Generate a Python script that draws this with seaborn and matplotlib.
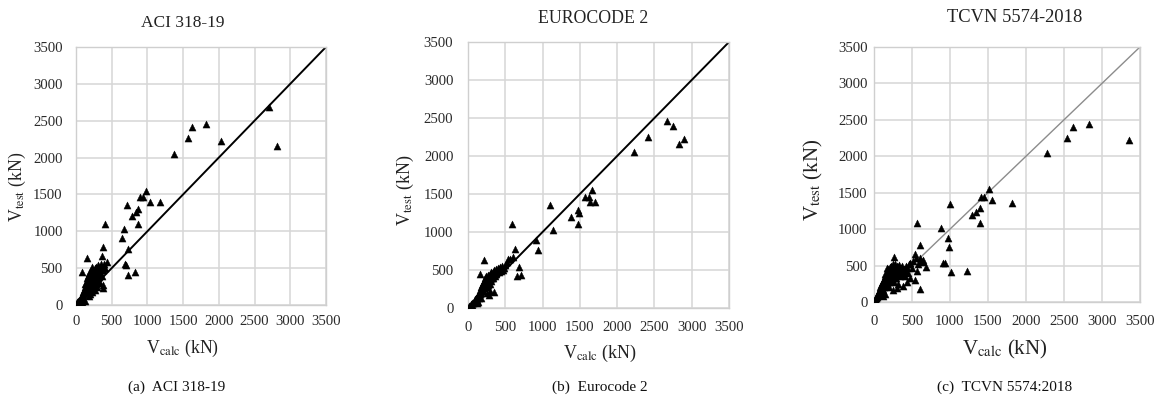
import matplotlib
matplotlib.use("Agg")
import matplotlib.pyplot as plt
import seaborn as sns
import pandas as pd

# ---------------- data (kN) ----------------
# ACI 318-19: calculated vs. test shear strength
aci_calc = [15, 20, 25, 30, 35, 40, 45, 50, 55, 60, 65, 70, 75, 80, 85, 90, 95, 100, 100, 105,
            110, 115, 120, 125, 130, 135, 140, 145, 150, 150, 155, 160, 160, 165, 170, 175, 180, 180,
            185, 190, 190, 195, 200, 200, 205, 210, 210, 215, 220, 220, 225, 230, 230, 235, 240, 240,
            245, 250, 250, 255, 260, 260, 265, 270, 270, 275, 280, 280, 285, 290, 295, 300, 300, 305,
            310, 315, 320, 325, 330, 340, 345, 350, 360, 370, 380, 390, 400, 180, 230, 270, 120, 90,
            330, 300,
            2700, 2820, 2030, 1825, 1630, 1570, 1370, 980, 890, 940, 1030, 1180, 715, 865, 840, 785,
            875, 405, 670, 650, 380, 725, 680, 700, 725, 820, 160, 80, 370, 380, 380, 430]
aci_test = [20, 35, 30, 50, 45, 60, 40, 70, 80, 55, 90, 75, 110, 95, 130, 120, 150, 100, 180, 140,
            200, 160, 240, 190, 280, 220, 300, 170, 330, 250, 360, 210, 290, 400, 320, 250, 350, 430,
            280, 380, 150, 310, 420, 240, 360, 470, 290, 330, 390, 200, 520, 350, 260, 440, 300, 380,
            480, 330, 420, 250, 360, 500, 300, 400, 460, 340, 520, 280, 380, 440, 320, 480, 400, 360,
            540, 420, 460, 380, 500, 440, 560, 480, 400, 520, 470, 560, 500, 120, 170, 200, 60, 45,
            300, 250,
            2690, 2160, 2230, 2460, 2410, 2260, 2050, 1550, 1460, 1460, 1400, 1400, 1360, 1300, 1260, 1210,
            1100, 1100, 1025, 910, 790, 755, 550, 540, 410, 445, 640, 450, 660, 225, 270, 580]

# Eurocode 2
ec2_calc = [15, 20, 30, 35, 45, 50, 60, 65, 75, 80, 90, 95, 100, 110, 115, 120, 125, 130, 140, 145,
            150, 155, 160, 165, 170, 175, 180, 185, 190, 195, 200, 205, 210, 215, 220, 225, 230, 235,
            240, 245, 250, 255, 260, 265, 270, 275, 280, 285, 290, 295, 300, 305, 310, 315, 320, 325,
            330, 335, 340, 345, 350, 360, 365, 370, 380, 390, 400, 410, 420, 430, 440, 450, 460, 470,
            480, 500, 520, 540, 560, 250, 280, 300, 180, 130, 120,
            2665, 2745, 2900, 2825, 2415, 2230, 1665, 1565, 1620, 1640, 1705, 1105, 1475, 1495, 1380,
            1480, 595, 1140, 910, 940, 625, 690, 710, 655, 210, 165, 610, 345]
ec2_test = [15, 30, 25, 40, 50, 45, 70, 60, 85, 75, 100, 120, 90, 130, 110, 150, 140, 170, 160, 190,
            130, 210, 180, 240, 200, 270, 230, 300, 250, 330, 280, 220, 310, 360, 260, 330, 390, 300,
            350, 420, 280, 380, 330, 440, 360, 300, 400, 350, 450, 380, 320, 420, 470, 360, 400, 440,
            480, 390, 430, 500, 460, 420, 480, 510, 450, 490, 530, 470, 510, 540, 490, 520, 550, 500,
            530, 560, 600, 640, 650, 200, 170, 230, 130, 80, 60,
            2455, 2400, 2225, 2155, 2245, 2055, 1550, 1455, 1455, 1400, 1390, 1350, 1295, 1245, 1200,
            1100, 1100, 1020, 900, 760, 780, 540, 430, 415, 630, 450, 670, 210]

# TCVN 5574:2018
tcvn_calc = [10, 15, 20, 25, 30, 35, 40, 45, 50, 55, 60, 65, 70, 75, 80, 85, 90, 95, 100, 105,
             110, 115, 120, 125, 130, 135, 140, 145, 150, 155, 160, 165, 170, 175, 180, 185, 190, 195,
             200, 205, 210, 215, 220, 225, 230, 235, 240, 245, 250, 255, 260, 265, 270, 275, 280, 285,
             290, 300, 305, 310, 315, 320, 325, 330, 340, 345, 350, 360, 370, 380, 390, 400, 410, 420,
             430, 440, 450, 460, 470, 480, 500, 520, 540, 550, 560, 580, 600, 620, 640, 200, 250, 300,
             380, 150, 120,
             3355, 2830, 2615, 2545, 2280, 1810, 1555, 1510, 1410, 1445, 1390, 1340, 1285, 1400, 1000,
             885, 970, 985, 915, 935, 1010, 1225, 565, 600, 540, 600, 175, 270, 690, 645]
tcvn_test = [20, 40, 30, 60, 50, 80, 70, 100, 120, 90, 150, 130, 110, 180, 160, 200, 140, 230, 190, 260,
             220, 170, 290, 250, 320, 200, 350, 280, 380, 240, 310, 410, 340, 260, 370, 450, 300, 400,
             330, 480, 360, 270, 420, 500, 380, 320, 450, 520, 400, 350, 480, 280, 430, 520, 380, 460,
             330, 500, 420, 370, 480, 250, 440, 510, 400, 350, 470, 430, 500, 380, 450, 420, 360, 500,
             280, 460, 400, 520, 330, 540, 470, 560, 300, 610, 420, 520, 600, 560, 550, 200, 170, 190,
             220, 110, 80,
             2220, 2450, 2405, 2255, 2040, 1365, 1395, 1545, 1445, 1445, 1290, 1235, 1190, 1090, 1340,
             1010, 885, 755, 530, 540, 405, 425, 1090, 780, 665, 180, 460, 620, 480, 575]

titles = ["ACI 318-19", "EUROCODE 2", "TCVN 5574-2018"]
captions = ["(a)  ACI 318-19", "(b)  Eurocode 2", "(c)  TCVN 5574:2018"]
ticks = [0, 500, 1000, 1500, 2000, 2500, 3000, 3500]
line_ends = [0, 3500]

# ---------------- style ----------------
sns.set_theme(style="whitegrid")
plt.rcParams["font.family"] = ["Liberation Serif", "DejaVu Serif"]
plt.rcParams["mathtext.fontset"] = "stix"
plt.rcParams["axes.unicode_minus"] = False

fig = plt.figure(figsize=(11.67, 4.07), dpi=100)
fig.patch.set_facecolor("white")

# axes boxes in figure fractions: left, bottom, width, height
boxes = [
    [0.0651, 0.2506, 0.2142, 0.6339],
    [0.4010, 0.2432, 0.2237, 0.6536],
    [0.7489, 0.2580, 0.2279, 0.6265],
]
title_pos = [(0.428, 1.093), (0.479, 1.090), (0.530, 1.114)]
title_size = [12.5, 12.8, 13.3]
label_size = [12.8, 13.0, 15.0]
ylabel_pos = [(-0.236, 0.457), (-0.241, 0.444), (-0.229, 0.478)]
xlabel_pos = [(0.428, -0.167), (0.506, -0.169), (0.492, -0.185)]
ytick_pad = [9.5, 10.5, 4.5]
xtick_pad = [7.5, 9.0, 9.5]
line_style = [("black", 1.4), ("black", 1.4), ("#8c8c8c", 1.0)]
caption_x = [177, 600, 1005]

datasets = [(aci_calc, aci_test), (ec2_calc, ec2_test), (tcvn_calc, tcvn_test)]

for i, (calc, test) in enumerate(datasets):
    ax = fig.add_axes(boxes[i])
    ax.set_facecolor("white")
    df = pd.DataFrame({"calc": calc, "test": test})
    ref = pd.DataFrame({"x": line_ends, "y": line_ends})

    sns.lineplot(data=ref, x="x", y="y", ax=ax, color=line_style[i][0],
                 linewidth=line_style[i][1], zorder=2)
    sns.scatterplot(data=df, x="calc", y="test", ax=ax, marker="^", s=26,
                    color="black", edgecolor="black", linewidth=0.3, zorder=3)

    ax.set_xlim(0, 3500)
    ax.set_ylim(0, 3500)
    ax.set_xticks(ticks)
    ax.set_yticks(ticks)
    ax.grid(True, color="#d6d6d6", linewidth=1.1)
    for sp in ax.spines.values():
        sp.set_color("#cfcfcf")
        sp.set_linewidth(1.0)
    ax.tick_params(axis="x", length=0, pad=xtick_pad[i], labelsize=10.6, colors="#2a2a2a")
    ax.tick_params(axis="y", length=0, pad=ytick_pad[i], labelsize=10.6, colors="#2a2a2a")

    ax.set_title(titles[i], fontsize=title_size[i], color="#222222",
                 y=title_pos[i][1], va="center", pad=0)
    ax.title.set_x(title_pos[i][0])

    ax.set_ylabel(r"V$_{\mathrm{test}}$ (kN)", fontsize=label_size[i], color="#222222")
    ax.yaxis.set_label_coords(*ylabel_pos[i])
    ax.yaxis.label.set_va("center")
    ax.set_xlabel(r"V$_{\mathrm{calc}}$ (kN)", fontsize=label_size[i], color="#222222")
    ax.xaxis.set_label_coords(*xlabel_pos[i])
    ax.xaxis.label.set_va("center")

    fig.text(caption_x[i] / 1167, 1 - 387 / 407, captions[i], ha="center", va="center",
             fontsize=11, color="#111111")

fig.savefig("out.png", dpi=100, facecolor="white")
